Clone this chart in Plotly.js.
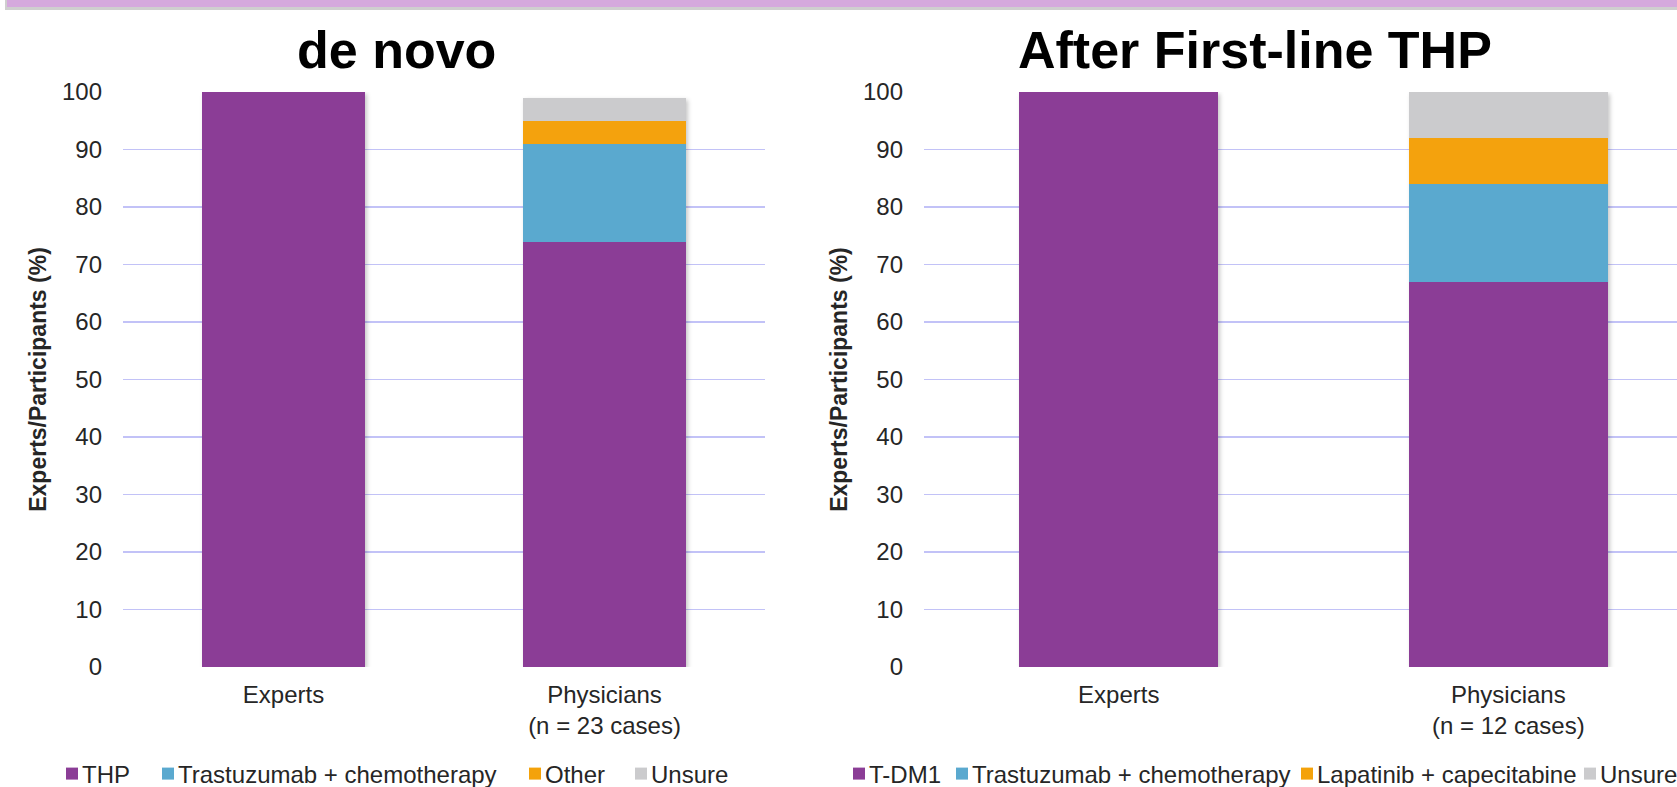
<!DOCTYPE html>
<html>
<head>
<meta charset="utf-8">
<script src="https://cdn.plot.ly/plotly-3.0.1.min.js"></script>
<style>
  html, body { margin: 0; padding: 0; background: #fff; overflow: hidden; }
  #banner {
    position: absolute; top: 0; left: 5px; right: 0; height: 7px;
    background: #D5A9DD; border-bottom: 3px solid #CFCFCF; border-left: 2px solid #CFCFCF;
    z-index: 5;
  }
  #chart { width: 1677px; height: 787px; }
  .barlayer { filter: url(#barShadow); }
  /* pull legend labels (legendtext, legend2text, ...) closer to their swatches */
  text[class^="legend"][class$="text"] { transform: translateX(-10px); }
</style>
</head>
<body>
<svg width="0" height="0" style="position:absolute">
  <defs>
    <filter id="barShadow" x="-10%" y="-10%" width="130%" height="130%">
      <feGaussianBlur in="SourceAlpha" stdDeviation="2"/>
      <feOffset dx="2" dy="2" result="blurred"/>
      <feFlood flood-color="#000" flood-opacity="0.22"/>
      <feComposite in2="blurred" operator="in"/>
      <feMerge><feMergeNode/><feMergeNode in="SourceGraphic"/></feMerge>
    </filter>
  </defs>
</svg>
<div id="banner"></div>
<div id="chart"></div>
<script>
// Category labels for each panel
const deNovoCategories = ['Experts', 'Physicians<br>(n = 23 cases)'];
const afterThpCategories = ['Experts', 'Physicians<br>(n = 12 cases)'];

// de novo: recommended treatment (%)
const deNovoTHP = [100, 74];
const deNovoTrastuzumabChemo = [0, 17];
const deNovoOther = [0, 4];
const deNovoUnsure = [0, 4];

// After first-line THP: recommended treatment (%)
const afterTDM1 = [100, 67];
const afterTrastuzumabChemo = [0, 17];
const afterLapatinibCape = [0, 8];
const afterUnsure = [0, 8];

const yTickValues = [0, 10, 20, 30, 40, 50, 60, 70, 80, 90, 100];

const colors = {
  purple: '#8B3D96',
  blue: '#5AA9CF',
  orange: '#F4A20A',
  gray: '#CBCBCD'
};

const FONT = 'Liberation Sans, Arial, sans-serif';
const TEXT = '#262626';

function stackTrace(name, x, y, color, xa, ya, legend) {
  return {
    type: 'bar', name: name, x: x, y: y,
    xaxis: xa, yaxis: ya, legend: legend,
    width: 0.51,
    marker: { color: color, line: { width: 0 } },
    hoverinfo: 'skip'
  };
}

// Each legend entry sits in its own legend box so the row can be spaced freely
const data = [
  stackTrace('THP', deNovoCategories, deNovoTHP, colors.purple, 'x', 'y', 'legend'),
  stackTrace('Trastuzumab + chemotherapy', deNovoCategories, deNovoTrastuzumabChemo, colors.blue, 'x', 'y', 'legend2'),
  stackTrace('Other', deNovoCategories, deNovoOther, colors.orange, 'x', 'y', 'legend3'),
  stackTrace('Unsure', deNovoCategories, deNovoUnsure, colors.gray, 'x', 'y', 'legend4'),
  stackTrace('T-DM1', afterThpCategories, afterTDM1, colors.purple, 'x2', 'y2', 'legend5'),
  stackTrace('Trastuzumab + chemotherapy', afterThpCategories, afterTrastuzumabChemo, colors.blue, 'x2', 'y2', 'legend6'),
  stackTrace('Lapatinib + capecitabine', afterThpCategories, afterLapatinibCape, colors.orange, 'x2', 'y2', 'legend7'),
  stackTrace('Unsure', afterThpCategories, afterUnsure, colors.gray, 'x2', 'y2', 'legend8')
];

const W = 1677, H = 787;
const mTop = 92, mBottom = 120;
const plotH = H - mTop - mBottom;
const px = v => v / W;                     // horizontal pixel -> paper
const py = v => (H - mBottom - v) / plotH; // vertical pixel -> paper

const xCommon = {
  type: 'category',
  showgrid: false, zeroline: false, showline: false, ticks: '',
  ticklabelstandoff: 11,
  tickfont: { family: FONT, size: 24, color: TEXT },
  fixedrange: true
};
const yCommon = {
  range: [0, 100],
  tickvals: yTickValues,
  showgrid: true, gridcolor: '#C2C2F7', gridwidth: 1.5,
  zeroline: false, showline: false, ticks: '',
  ticklabelstandoff: 20,
  tickfont: { family: FONT, size: 24, color: TEXT },
  title: {
    text: 'Experts/Participants (%)',
    font: { family: FONT, size: 23, color: TEXT, weight: 'bold' },
    standoff: 8
  },
  fixedrange: true
};

function legendAt(xPx) {
  return {
    orientation: 'h',
    xanchor: 'left', yanchor: 'middle',
    x: px(xPx), y: py(774),
    font: { family: FONT, size: 24, color: TEXT },
    bgcolor: 'rgba(0,0,0,0)',
    itemwidth: 30
  };
}

const layout = {
  width: W, height: H,
  margin: { l: 0, r: 0, t: mTop, b: mBottom, pad: 0, autoexpand: false },
  paper_bgcolor: '#fff', plot_bgcolor: '#fff',
  barmode: 'stack',
  showlegend: true,
  xaxis: Object.assign({}, xCommon, { domain: [px(123), px(765)], anchor: 'y', range: [-0.5, 1.5] }),
  yaxis: Object.assign({}, yCommon, { anchor: 'x' }),
  xaxis2: Object.assign({}, xCommon, { domain: [px(924), 1], anchor: 'y2', range: [-0.5, 1.433] }),
  yaxis2: Object.assign({}, yCommon, { anchor: 'x2' }),
  legend: legendAt(52),
  legend2: legendAt(148),
  legend3: legendAt(515),
  legend4: legendAt(621),
  legend5: legendAt(839),
  legend6: legendAt(942),
  legend7: legendAt(1287),
  legend8: legendAt(1570),
  annotations: [
    {
      text: 'de novo', xref: 'paper', yref: 'paper',
      x: px(396), y: py(50), xanchor: 'center', yanchor: 'middle',
      showarrow: false,
      font: { family: FONT, size: 52, color: '#000', weight: 'bold' }
    },
    {
      text: 'After First-line THP', xref: 'paper', yref: 'paper',
      x: px(1255), y: py(50), xanchor: 'center', yanchor: 'middle',
      showarrow: false,
      font: { family: FONT, size: 52, color: '#000', weight: 'bold' }
    }
  ]
};

Plotly.newPlot('chart', data, layout, { displayModeBar: false, staticPlot: true });
</script>
</body>
</html>
